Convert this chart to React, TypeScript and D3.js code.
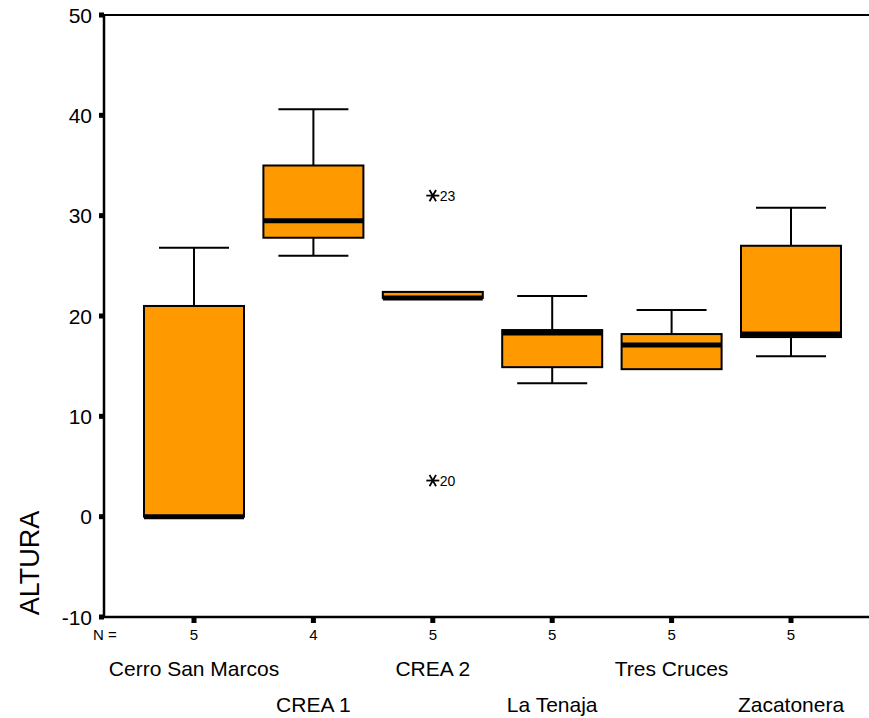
import React from "react";
import * as d3 from "d3";

const categories = ["Cerro San Marcos", "CREA 1", "CREA 2", "La Tenaja", "Tres Cruces", "Zacatonera"];
const whiskerLow = [0, 26.0, 21.8, 13.3, 14.7, 16.0];
const q1 = [0, 27.8, 21.8, 14.9, 14.7, 17.9];
const medians = [0, 29.5, 21.8, 18.3, 17.1, 18.2];
const q3 = [21.0, 35.0, 22.4, 18.6, 18.2, 27.0];
const whiskerHigh = [26.8, 40.6, 22.4, 22.0, 20.6, 30.8];
const counts = [5, 4, 5, 5, 5, 5];
const outlierCategory = ["CREA 2", "CREA 2"];
const outlierValues = [32.0, 3.6];
const outlierLabels = ["23", "20"];
const yTicks = [-10, 0, 10, 20, 30, 40, 50];
const yLabel = "ALTURA";

export default function App() {
  const W = 869, H = 718;
  const left = 104, top = 15, bottom = 617, right = 869;
  const y = d3.scaleLinear().domain([-10, 50]).range([bottom, top]);
  const x = d3.scalePoint<string>().domain(categories).range([194, 791]);
  const boxW = 100, capW = 70;
  const orange = "#FF9900";
  const font = "Liberation Sans, Arial, sans-serif";
  const star = (cx: number, cy: number, r: number) => {
    const a = Math.PI / 3;
    return [0, a, -a].map((ang, k) => (
      <line key={k} x1={cx - r * Math.cos(ang)} x2={cx + r * Math.cos(ang)} y1={cy - r * Math.sin(ang)} y2={cy + r * Math.sin(ang)} stroke="#000" strokeWidth={1.8} />
    ));
  };

  return (
    <svg width={W} height={H} style={{ position: "absolute", left: 0, top: 0 }} fontFamily={font}>
      <rect width={W} height={H} fill="#fff" />
      {categories.map((c, i) => {
        const cx = x(c)!;
        const yq1 = y(q1[i]), yq3 = y(q3[i]);
        return (
          <g key={c}>
            {whiskerHigh[i] > q3[i] && (
              <g stroke="#000" strokeWidth={2}>
                <line x1={cx} x2={cx} y1={y(whiskerHigh[i])} y2={yq3} />
                <line x1={cx - capW / 2} x2={cx + capW / 2} y1={y(whiskerHigh[i])} y2={y(whiskerHigh[i])} />
              </g>
            )}
            {whiskerLow[i] < q1[i] && (
              <g stroke="#000" strokeWidth={2}>
                <line x1={cx} x2={cx} y1={yq1} y2={y(whiskerLow[i])} />
                <line x1={cx - capW / 2} x2={cx + capW / 2} y1={y(whiskerLow[i])} y2={y(whiskerLow[i])} />
              </g>
            )}
            <rect x={cx - boxW / 2} y={yq3} width={boxW} height={Math.max(yq1 - yq3, 0.5)} fill={orange} stroke="#000" strokeWidth={2} />
            <line x1={cx - boxW / 2} x2={cx + boxW / 2} y1={y(medians[i])} y2={y(medians[i])} stroke="#000" strokeWidth={5} />
          </g>
        );
      })}
      {outlierValues.map((v, i) => {
        const cx = x(outlierCategory[i])!;
        const cy = y(v);
        return (
          <g key={i}>
            {star(cx, cy, 6.5)}
            <text x={cx + 7} y={cy + 5.5} fontSize={14} fill="#000">{outlierLabels[i]}</text>
          </g>
        );
      })}
      <line x1={left} x2={left} y1={top} y2={bottom + 1} stroke="#000" strokeWidth={2.5} />
      <line x1={left} x2={right} y1={bottom} y2={bottom} stroke="#000" strokeWidth={2.5} />
      <line x1={left} x2={right} y1={top} y2={top} stroke="#000" strokeWidth={2} />
      {yTicks.map((t) => (
        <g key={t}>
          <rect x={left - 5} y={y(t) - 2.5} width={5} height={5} fill="#000" />
          <text x={92} y={y(t) + 7.5} textAnchor="end" fontSize={21} fill="#000">{t}</text>
        </g>
      ))}
      {categories.map((c, i) => (
        <g key={c}>
          <rect x={x(c)! - 2.5} y={bottom + 1} width={5} height={5} fill="#000" />
          <text x={x(c)!} y={640} textAnchor="middle" fontSize={15} fill="#000">{counts[i]}</text>
          <text x={x(c)!} y={676} textAnchor="middle" fontSize={21} fill="#000" dy={i % 2 === 0 ? 0 : 36}>{c}</text>
        </g>
      ))}
      <text x={93} y={640} fontSize={15} fill="#000">N =</text>
      <text transform={`translate(39,563) rotate(-90)`} textAnchor="middle" fontSize={27} fill="#000">{yLabel}</text>
    </svg>
  );
}
